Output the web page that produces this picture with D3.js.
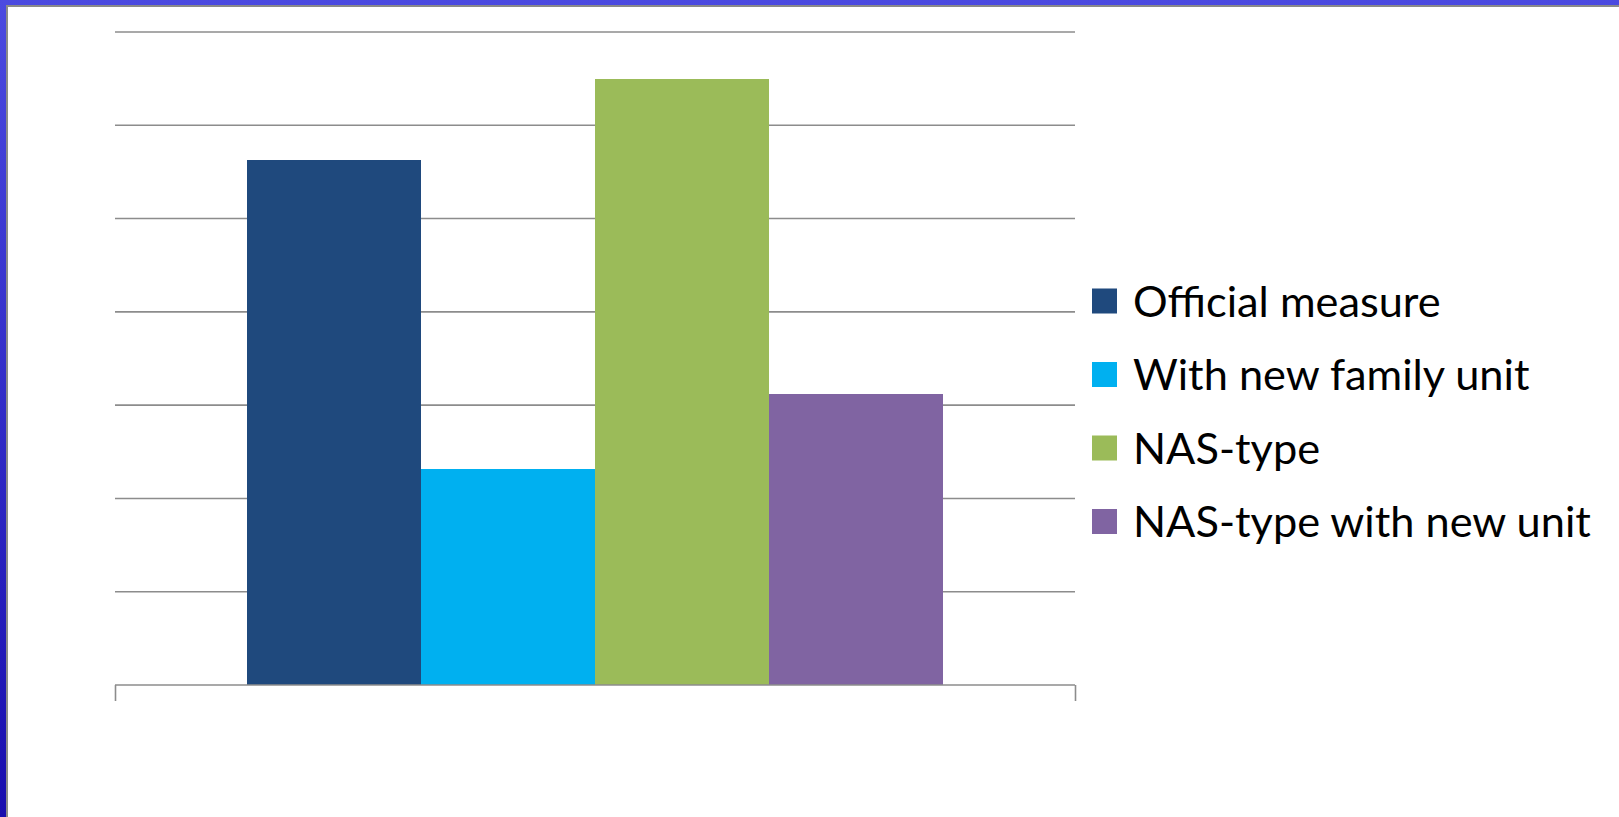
<!DOCTYPE html>
<html>
<head>
<meta charset="utf-8">
<script src="https://cdn.jsdelivr.net/npm/d3@7"></script>
<style>
  html, body { margin: 0; padding: 0; background: #fff; overflow: hidden; }
  svg { display: block; }
</style>
</head>
<body>
<svg id="chart" width="1619" height="817"></svg>
<script>
// ---- data ----
const seriesNames = ["Official measure", "With new family unit", "NAS-type", "NAS-type with new unit"];
const seriesValues = [5.63, 2.32, 6.50, 3.12];
const seriesColors = ["#1F497D", "#00B0F0", "#9BBB59", "#8064A2"];
const category = [""];
const yTicks = [0, 1, 2, 3, 4, 5, 6, 7];

const W = 1619, H = 817;
const svg = d3.select("#chart");

// frame background (slide border)
const defs = svg.append("defs");
const grad = defs.append("linearGradient").attr("id", "edge").attr("x1", 0).attr("y1", 0).attr("x2", 0).attr("y2", 1);
grad.append("stop").attr("offset", "0%").attr("stop-color", "#4B4AE0");
grad.append("stop").attr("offset", "100%").attr("stop-color", "#180DAE");
svg.append("rect").attr("x", 0).attr("y", 0).attr("width", W).attr("height", H).attr("fill", "url(#edge)");
svg.append("rect").attr("x", 6).attr("y", 5).attr("width", W - 6).attr("height", H - 5).attr("fill", "#8a8a8a");
svg.append("rect").attr("x", 8).attr("y", 7).attr("width", W - 8).attr("height", H - 7).attr("fill", "#ffffff");

// plot area
const plot = { left: 115, right: 1075, top: 32, bottom: 685 };

const y = d3.scaleLinear().domain([0, 7]).range([plot.bottom, plot.top]);
const x0 = d3.scaleBand().domain(category).range([plot.left, plot.right]).paddingInner(0).paddingOuter(0.19);
const x1 = d3.scaleBand().domain(seriesNames).range([0, x0.bandwidth()]).padding(0);

// gridlines
const g = svg.append("g");
g.append("g").selectAll("line").data(yTicks.filter(d => d > 0)).join("line")
  .attr("x1", plot.left).attr("x2", plot.right)
  .attr("y1", d => y(d)).attr("y2", d => y(d))
  .attr("stroke", "#8c8c8c").attr("stroke-width", 1.6);

// bars
g.append("g").selectAll("rect").data(seriesNames).join("rect")
  .attr("x", d => x0(category[0]) + x1(d))
  .attr("width", x1.bandwidth())
  .attr("y", (d, i) => y(seriesValues[i]))
  .attr("height", (d, i) => y(0) - y(seriesValues[i]))
  .attr("fill", (d, i) => seriesColors[i])
  .attr("shape-rendering", "crispEdges");

// x axis
const xAxis = d3.axisBottom(d3.scaleLinear().domain([0, 1]).range([plot.left, plot.right]))
  .tickValues([0, 1]).tickSize(16).tickFormat("");
const ax = g.append("g").attr("transform", `translate(0,${plot.bottom})`).call(xAxis);
ax.select(".domain").attr("stroke", "#8c8c8c").attr("stroke-width", 1.6).attr("d", `M${plot.left},0H${plot.right}`);
ax.selectAll(".tick line").attr("stroke", "#8c8c8c").attr("stroke-width", 1.6);

// legend
const legX = 1092, legTextX = 1133, legY0 = 301, legStep = 73.5, sw = 25;
const legend = svg.append("g");
const items = legend.selectAll("g").data(seriesNames).join("g")
  .attr("transform", (d, i) => `translate(0,${legY0 + i * legStep})`);
items.append("rect").attr("x", legX).attr("y", -sw / 2).attr("width", sw).attr("height", sw)
  .attr("fill", (d, i) => seriesColors[i]);
const texts = items.append("text").attr("x", legTextX).attr("y", 0)
  .attr("dy", "0.36em")
  .attr("font-family", "Lato, 'Open Sans', sans-serif")
  .attr("font-size", 100).attr("fill", "#000").text(d => d);
// size font so the longest label spans the same width as in the reference
const widest = d3.max(texts.nodes(), n => n.getComputedTextLength());
const fs = 100 * 458 / widest;
texts.attr("font-size", fs);
</script>
</body>
</html>
